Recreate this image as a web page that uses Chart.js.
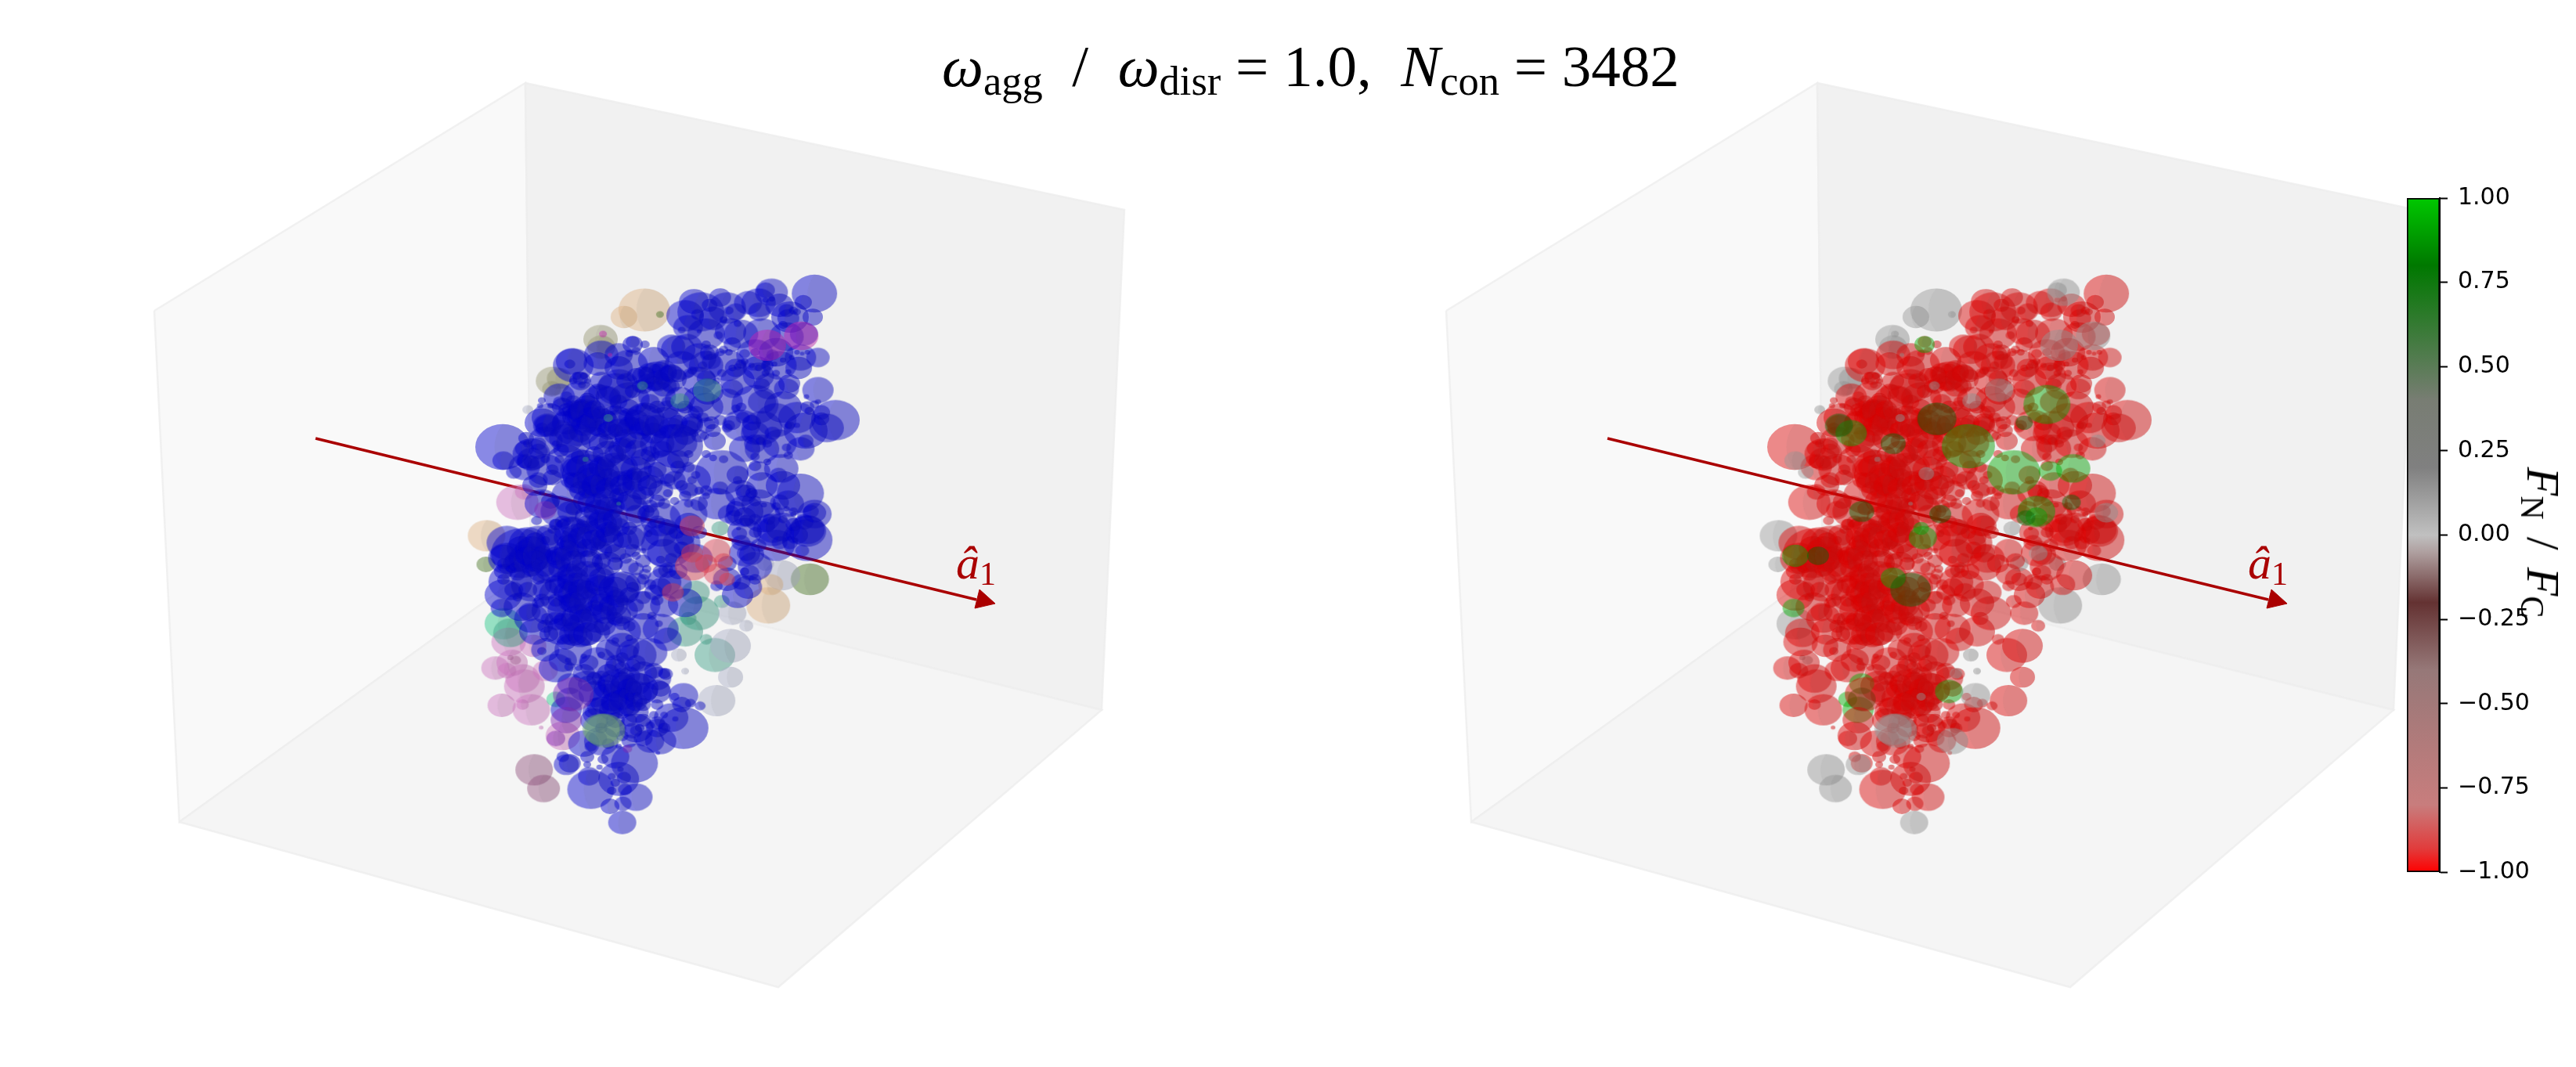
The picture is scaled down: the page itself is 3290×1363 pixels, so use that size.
<!DOCTYPE html>
<html><head><meta charset="utf-8">
<script src="https://cdn.jsdelivr.net/npm/chart.js@4/dist/chart.umd.min.js"></script>
<style>
html,body{margin:0;padding:0;background:#fff;width:3290px;height:1363px;overflow:hidden;position:relative}
canvas{position:absolute}
.m{position:absolute;white-space:nowrap;font-family:"Liberation Serif",serif;color:#000;line-height:1}
.m i{font-style:italic}
.m sub{font-size:.7em;vertical-align:baseline;position:relative;top:.2em;font-style:normal}
.g{margin:0 .12em}
</style></head><body>
<canvas id="left" style="left:0;top:0"></canvas>
<canvas id="right" style="left:1650px;top:0"></canvas>
<canvas id="bar" style="left:3060px;top:222px"></canvas>
<div class="m" id="title" style="left:1203px;top:47px;font-size:75px"><i>ω</i><sub>agg</sub>&nbsp;&nbsp;/&nbsp;&nbsp;<i>ω</i><sub>disr</sub>&nbsp;=&nbsp;1.0,&nbsp;&nbsp;<i>N</i><sub>con</sub>&nbsp;=&nbsp;3482</div>
<div class="m arrowlabel" style="left:1221px;top:689px;font-size:60px;color:#aa0000"><i>â</i><sub>1</sub></div>
<div class="m arrowlabel" style="left:2871px;top:689px;font-size:60px;color:#aa0000"><i>â</i><sub>1</sub></div>
<div class="m" id="cblabel" style="left:3248px;top:693px;font-size:60px;transform:translate(-50%,-50%) rotate(90deg)"><i>F</i><sub>N</sub><span class="g">&nbsp;/&nbsp;</span><i>F</i><sub>C</sub></div>
<script>
// colour bar
const barTicks = [-1,-0.75,-0.5,-0.25,0,0.25,0.5,0.75,1];
const forceStops = [-1,-0.93,-0.8,-0.4,-0.2,-0.05,0,0.2,0.4,0.8,1];
const forceRGB = [[255,0,0],[225,60,60],[200,125,125],[150,120,120],[100,50,50],[175,160,160],[192,192,192],[128,128,128],[120,125,115],[0,120,0],[0,200,0]];
// 3D box panes in panel pixels
const wallLeft  = [[197,397],[671,106],[678,726],[229,1050],[197,397]];
const wallBack  = [[671,106],[1436,268],[1407,907],[678,726],[671,106]];
const floorPane = [[229,1050],[678,726],[1407,907],[994,1261],[229,1050]];
const axisLine  = [[403,560],[1247,766]];
const axisHead  = [[1251,753],[1271,771],[1245,777],[1251,753]];
// rows: projected x, projected y, projected diameter
const broadBubbles = [
[960,340,120],[1050,320,110],[1110,330,90],[840,370,120],[900,440,120],[970,430,100],[1060,440,120],[1130,450,110],[1180,440,90],[820,500,110],[900,560,110],[960,560,120],[1040,520,120],[1110,560,110],[1170,530,100],[1080,640,100],[1130,650,80],[990,620,110],[1050,600,100],
[520,560,130],[600,520,110],[680,560,120],[750,540,100],[830,560,110],[880,620,110],[960,700,100],[1120,720,120],[1160,760,120],[1000,790,120],[1060,880,110],[1110,860,110],[1170,880,90],[1010,880,100],[860,1000,120],[930,1090,120],[1060,1020,100],[1120,1020,110],[1060,1140,120],[1120,1180,110],[1210,1130,110],
[480,680,100],[540,680,120],[600,700,130],[680,690,130],[760,680,120],[830,770,130],[900,720,110],[450,760,110],[500,840,110],[440,850,110],[380,950,100],[440,960,120],[500,930,130],[640,780,130],[700,880,130],[780,950,130],[640,960,130],[520,1060,140],[590,1090,130],[680,1120,130],[770,1150,130],[850,1130,120],[430,1090,110],[480,1120,120],
[330,1240,130],[420,1240,130],[540,1230,130],[650,1240,130],[720,1220,100],[440,1330,130],[320,1440,120],[400,1400,130],[480,1440,130],[580,1480,130],[660,1410,120],[720,1480,110],[400,1530,110],[450,1500,110],[660,1580,120],[720,1560,100],[830,1240,120],[870,1300,110],[780,1280,110],[1010,1200,110],[1100,1250,120],[1040,1330,110],[990,1440,100],[840,1470,110],[780,1480,90],
[520,1650,120],[590,1700,120],[660,1640,110],[740,1660,110],[470,1720,110],[560,1790,120],[710,1800,120],[760,1760,90],[600,1890,120],[700,1950,110],[600,2000,110],[550,2010,100],[740,2000,90],[640,2060,90],[440,1650,90]
];
const mainBubbles = [
[1210,285,145],[1178,318,55],[1205,375,65],[1140,375,120],[1135,380,70],[1020,320,90],[985,355,65],[1052,355,70],[865,315,95],[940,300,70],
[885,355,150],[920,380,90],[910,330,50],[848,415,95],[875,365,40],[950,385,25],[965,350,30],[990,400,25],[1000,440,110],[830,425,25],
[800,487,90],[845,490,100],[880,430,15],[935,445,30],[880,530,110],[910,510,60],[975,480,55],[940,510,30],[915,545,60],[1040,510,30],
[1010,515,35],[1100,510,110],[1165,570,85],[1220,530,75],[1175,515,15],[1045,570,90],[985,570,70],[1000,555,35],[1100,590,25],[1135,585,20],
[1138,630,70],[1075,560,40],[975,650,70],[1060,635,50],[1220,655,100],[1187,680,18],[1060,700,90],[1000,720,35],[1190,720,45],[1220,700,20],
[1270,770,155],[1230,740,55],[1245,800,110],[1185,810,140],[1130,875,30],[1140,790,30],[1100,770,130],[1040,820,90],[1060,800,130],[1005,760,45],
[965,790,40],[985,725,30],[1107,980,55],[1075,930,25],[1135,905,30],[1040,945,40],[1040,910,30],[990,980,70],
[940,1030,50],[1170,1050,150],[1135,1090,100],[1150,1120,30],[1110,1120,30],[1015,1050,65],[1000,1050,100],[1050,1090,110],[985,1110,60],[965,1130,70],
[1015,1155,45],[1190,1195,120],[1090,1190,100],
[318,873,175],[385,840,50],[400,900,120],[400,920,90],[485,885,50],[430,780,110],[445,790,80],[430,800,40],[465,820,25],[430,695,25],
[425,715,20],[455,715,20],[490,720,70],[500,780,90],[555,755,130],[550,750,110],[530,790,160],[540,610,50],[540,620,70],[515,545,100],
[510,555,35],[590,555,90],[650,520,90],[690,470,45],[725,480,30],[700,505,30],[680,515,25],[650,570,90],[640,650,120],[650,640,130],
[720,640,60],[760,600,110],[800,610,100],[780,640,80],[740,700,60],[650,700,55],[825,690,95],[880,690,100],[850,590,35],[900,610,60],
[905,660,100],[790,730,70],[780,780,120],[720,770,120],[650,780,100],[620,760,50],[580,840,90],[620,850,60],[670,840,70],[800,840,110],
[830,860,100],[900,790,60],[915,780,50],[960,800,35],[925,850,70],[775,880,60],[550,960,150],[560,980,160],[575,1000,100],[660,950,100],
[700,960,100],[720,920,80],[740,990,90],[650,1010,90],[710,1020,110],[770,1040,80],[600,1030,80],[540,1040,70],[820,920,70],[810,1000,70],
[850,1040,60],[900,1040,40],[880,1090,55],[840,1060,40],[780,1090,40],[730,1120,50],[640,1100,60],[590,1120,90],[600,1170,100],[520,1110,50],
[490,1160,50],[470,1170,45],[410,1020,80],[420,1000,60],[460,990,60],[455,1080,60],[430,1050,20],[415,1155,35],
[370,1280,190],[390,1240,120],[330,1300,120],[385,1300,110],[400,1290,90],[470,1250,130],[450,1210,80],[470,1170,40],[510,1190,100],[560,1170,70],
[600,1200,110],[620,1160,90],[650,1180,70],[520,1250,90],[600,1270,70],[640,1280,70],[690,1270,50],[460,1330,120],[560,1320,100],[620,1320,90],
[680,1330,60],[720,1310,50],[340,1390,140],[320,1350,60],[350,1330,35],[420,1380,40],[470,1400,70],[520,1380,100],[520,1440,100],[590,1370,110],
[640,1410,80],[700,1390,70],[725,1360,40],[750,1430,60],[720,1450,50],[620,1470,130],[660,1500,100],[550,1480,60],[500,1500,120],[470,1540,70],
[500,1570,120],[550,1570,130],[480,1580,100],[610,1560,70],[660,1550,50],[370,1485,110],[395,1505,70],[420,1470,40],[445,1530,40],[410,1580,100],
[360,1450,30],[770,1570,115],[790,1610,90],[745,1520,30],[765,1550,25],[680,1560,40],[640,1615,25],[680,1605,25],[700,1670,130],[680,1660,60],
[660,1680,40],[620,1650,80],[600,1670,25],[550,1675,20],[490,1690,90],[505,1690,20],[565,1700,60],[550,1740,70],[510,1715,35],[535,1718,25],
[430,1655,30],[720,1740,90],[750,1730,60],[785,1743,45],[770,1800,60],[680,1750,70],[665,1790,90],[640,1780,110],[580,1820,100],[620,1840,120],
[700,1820,100],[730,1810,70],[650,1860,110],[700,1890,80],[760,1860,40],[830,1860,60],[810,1830,30],[855,1855,35],[883,1865,35],[800,1910,110],
[812,1915,20],[780,1900,25],[750,1900,30],[835,1950,160],[760,1950,70],[740,1940,30],[710,1950,30],[690,1960,60],[680,2000,50],[640,1950,70],
[580,1920,90],[590,1990,60],[570,2020,40],[510,2085,70],[490,2060,40],[560,2060,45],[605,2070,35],[695,2085,150],[650,2145,130],[570,2185,150],
[565,2135,70],[665,2140,45],[655,2108,20],[630,2135,25],[640,2160,30],[668,2185,45],[630,2190,30],[700,2215,105],[625,2250,60],[662,2240,55],
[560,2090,25],[595,2100,20],[762,2045,15],[720,1990,60],
[770,1200,110],[790,1250,170],[735,1205,25],[745,1170,30],[815,1200,50],[850,1170,90],[1190,1230,160],[1190,1190,110],[1090,1190,125],[1075,1175,50],
[1140,1240,50],[1175,1270,45],[1155,1230,20],[995,1205,50],[993,1185,15],[1120,1150,30],[1010,1280,100],[1030,1285,80],[830,1260,50],[790,1345,60],
[790,1340,35],[770,1305,30],[780,1390,110],[810,1400,110],[1025,1355,60],[1020,1410,90],[960,1380,90],[930,1405,40],
[560,720,90],[600,780,110],[690,820,120],[760,860,110],[620,900,100],[660,880,90],[520,860,110],[600,980,120],[680,1060,110],[560,1080,90],
[620,1060,100],[700,1130,70],[560,1210,110],[620,1230,100],[500,1300,100],[560,1370,120],[500,1400,110],[600,1420,110],[540,1460,110],[590,1530,110],
[530,1530,100],[420,1300,90],[440,1420,80],[700,1780,90],[640,1720,70],[670,1850,110],[740,1100,50],[820,780,60],[860,780,70]
];
const coreUpper = [
[700,600,60],[730,590,50],[760,580,55],[790,590,60],[820,600,50],[710,640,50],[750,630,60],[800,640,55],[770,610,50],[730,620,55],[690,660,50],[670,620,60],[600,620,70],[620,680,80],[590,660,60],[560,690,50],[520,700,50],[500,680,40],[480,700,40],[540,720,60],
[500,730,50],[520,760,70],[560,780,70],[590,800,60],[540,820,70],[510,820,50],[600,740,50],[640,730,40],[680,720,60],[720,730,50],[760,720,50],[790,700,40],[840,720,50],[870,740,50],[860,790,70],[890,760,40],[940,770,40],[920,810,50],[880,830,50],[850,800,60],
[710,810,70],[750,820,80],[680,790,70],[640,810,50],[610,800,40],[660,870,60],[700,880,70],[740,900,60],[640,900,70],[610,930,70],[580,900,60],[540,910,60],[520,950,70],[510,1000,60],[560,1040,60],[620,990,70],[680,1000,80],[720,1060,70],[650,1060,60],[760,960,60],
[790,1000,50],[760,1080,50],[830,1020,40],[860,1000,30],[880,1040,30],[900,1060,25],[850,1090,30],[810,1080,30],[790,1050,30],[820,950,50],[850,950,40],[870,980,30],[850,900,30],[900,900,30],[920,915,25],[950,920,30],[865,820,30],[895,830,30],
[1040,860,70],[1055,850,30],[1075,860,30],[1030,780,60],[1090,820,50],[1135,790,25],[1160,790,20],[1210,710,30],[1195,735,30],[1230,765,50],[1005,1040,50],[1030,1050,40],[990,1000,30],[1040,1080,40],[1065,1095,20],[1100,1100,30],[1150,1130,20],[1130,1110,20],[1040,1150,40],[1180,1160,60],[1200,1120,50],
[380,880,60],[420,890,60],[400,930,50],[380,930,50],[420,860,50],[390,860,30],[460,960,40],[440,920,30],[480,920,30],[470,860,25],[530,600,30],[550,600,25],[520,620,25],[545,635,25],[560,620,20],
[975,570,25],[990,565,25],[1010,545,25],[1030,560,20],[1050,570,25],[1070,590,25],[1095,555,20],[1120,540,20],[1145,530,18],[1160,510,18],[1190,510,18],[1090,520,40],[1130,350,50],[1150,350,30],[1120,405,30],[1160,355,25],[1070,310,20],[1088,306,20],[900,520,40],[900,480,30],[890,560,30],[860,580,30],[950,500,30],[965,510,25],[945,590,30],[930,620,25]
];
const coreLower = [
[350,1320,70],[380,1260,60],[410,1230,60],[430,1280,60],[440,1340,60],[400,1340,60],[360,1360,50],[320,1380,40],[350,1420,60],[390,1420,60],[430,1460,50],[470,1460,50],[510,1470,70],[470,1290,70],[500,1240,60],[530,1270,70],[480,1340,70],[530,1340,70],[560,1260,70],[570,1300,70],
[600,1310,60],[640,1320,50],[660,1230,60],[620,1190,50],[590,1240,50],[540,1180,60],[490,1170,40],[500,1390,60],[560,1420,70],[600,1470,70],[640,1450,60],[680,1440,60],[700,1480,50],[660,1460,40],[580,1490,60],[540,1510,70],[590,1580,80],[640,1530,50],[540,1600,80],[500,1620,60],
[450,1590,60],[440,1560,50],[700,1340,50],[720,1380,40],[740,1400,40],[690,1410,40],[670,1300,40],[700,1290,30],[720,1270,20],[460,1190,30],[440,1230,30],[355,1300,50],[385,1320,40],[340,1340,30],[320,1320,40],
[640,1700,60],[690,1710,50],[660,1720,50],[700,1700,60],[620,1740,70],[600,1760,60],[660,1770,70],[690,1800,60],[610,1800,70],[580,1760,50],[560,1780,60],[630,1880,80],[680,1870,70],[720,1860,50],[590,1870,70],[570,1890,40],[640,1920,60],[680,1920,50],[720,1920,50],[760,1930,50],
[780,1950,40],[700,1960,40],[660,1980,40],[600,1950,40],[620,2010,40],[650,2020,20],
[760,1160,50],[790,1180,60],[840,1220,60],[880,1200,50],[1000,1240,60],[1040,1200,40],[1050,1250,50],[1110,1240,50],[1160,1210,70],[1150,1170,50],[1080,1150,40],[770,1350,50],[800,1300,40],[820,1350,60],[1000,1390,60],[1040,1380,40],[1010,1350,30],[760,1460,40],[770,1410,70],[730,1340,30]
];
const coreDense = [
[540,740,80],[570,760,80],[550,790,80],[520,730,70],[580,730,70],[740,590,80],[780,580,80],[760,620,80],[720,600,70],[800,590,70],[700,770,80],[730,790,80],[680,760,70],[760,790,80],[650,800,70],[620,810,70],[800,800,80],[840,830,70],[540,950,90],[570,980,90],
[600,950,80],[530,1010,80],[580,1020,80],[620,1030,80],[660,1020,80],[700,1000,90],[740,1020,80],[680,1080,80],[620,1110,90],[590,1090,80],[560,1140,80],[600,1150,80],[640,1150,80],[520,1180,80],[500,1220,80],[540,1220,80],[580,1230,80],[620,1200,80],[500,1270,80],[520,1310,80],
[480,1300,80],[370,1260,90],[400,1260,90],[360,1310,80],[410,1310,80],[510,1360,80],[530,1400,90],[500,1430,80],[540,1420,80],[590,1400,80],[520,1470,80],[550,1540,90],[520,1590,90],[560,1590,90],[500,1540,80],[630,1480,80],[650,1520,80],[610,1510,80],[660,1760,80],[640,1810,80],
[680,1800,80],[660,1840,80],[630,1850,70],[700,1850,70],[620,1780,70]
];
const greenBright = [[690,480,65],[815,870,170],[945,970,170],[1040,710,150],[1050,965,75],[1115,955,110],[480,820,100],[1010,1120,120],[680,1185,50],[685,1220,90],[320,1290,85],[315,1490,70],[600,1375,80],[760,1810,90],[510,1780,80],[500,1880,100],[1010,1140,70]];
const greenDark = [[725,765,125],[975,780,55],[1110,1085,60],[445,790,90],[600,860,80],[735,1130,70],[510,1120,80],[385,1290,70],[650,1420,130],[510,1840,90],[980,1145,60]];
const mintGreen = [[470,1840,60]];
const grayGreenTint = [[610,1960,130],[600,1955,120]];
const tanGray = [[723,348,165],[665,375,85],[272,1213,120],[1078,1480,140]];
const oliveGray = [[598,460,110],[462,620,110],[480,610,80],[458,650,60],[600,490,90]];
const mossGray = [[768,365,25],[270,1323,60],[1197,1380,122]];
const magentaGray = [[1075,483,120],[1172,447,110],[605,440,25],[625,520,15]];
const mauveGray = [[408,2110,120],[435,2182,105],[355,1690,35],[340,1680,20]];
const slateGray = [[390,730,35],[822,1670,50],[1070,1320,55],[840,1732,25]];
const tealGray = [[903,655,90],[825,697,60],[718,638,35],[620,762,30],[555,920,20],[650,1090,15],[940,1185,55]];
const mintGray = [[320,1550,120]];
const blueGray = [[1087,280,105],[1070,272,60],[320,925,70],[350,970,50],[695,975,50],[1210,1125,75],[1185,850,50],[770,2000,100],[500,2090,80],[660,2312,90],[835,1825,95],[780,1740,40],[680,1830,30],[960,1320,60],[1015,1280,60]];
const pinkRed = [[360,1085,135],[380,1045,60],[335,1620,110],[405,1635,85],[297,1720,90],[375,1760,110],[380,1790,130],[330,1730,60],[440,1730,80],[315,1863,90],[400,1880,120],[375,1860,40],[428,1948,15],[490,1980,110],[345,1700,100]];
const purpleRed = [[440,1115,70],[520,1820,130],[500,1920,100],[470,1990,60],[675,2030,30]];
const tealRed = [[925,1670,130],[840,1580,115],[880,1510,130],[870,1430,90],[900,1610,40],[945,1465,50],[850,1530,50],[340,1585,110]];
const slateRed = [[970,1635,130],[970,1755,80],[930,1845,120],[1015,1558,45],[975,1510,90],[1118,1365,115]];
const tanRed = [[1085,1400,80]];
const rustRed = [[860,1330,110],[930,1270,90],[900,1320,70],[950,1310,60],[930,1360,80],[860,1280,70],[960,1380,50],[805,1430,70],[860,1175,80]];
// cluster colours of the left panel
const blue=[0,0,205],tan=[222,178,130],olive=[150,150,115],moss=[70,115,35],magenta=[200,30,180],mauve=[145,80,125],slate=[170,175,200],teal=[60,160,135],mint=[35,200,135],pink=[205,115,190],purple=[130,40,180],rust=[225,60,80];
// layers, drawn first to last: rows, left colour, F_N/F_C
const layers = [
 [mintGray,mint,0.05],[tanGray,tan,0.05],[oliveGray,olive,0.05],[mossGray,moss,0.05],[mauveGray,mauve,0.07],[slateGray,slate,0.07],
 [pinkRed,pink,-1],[tealRed,teal,-1],[slateRed,slate,-1],[tanRed,tan,-1],[mintGreen,mint,1],
 [broadBubbles,blue,-1],[mainBubbles,blue,-1],[coreUpper,blue,-1],[coreLower,blue,-1],[coreDense,blue,-1],[greenBright,blue,1],[greenDark,blue,0.8],[blueGray,blue,0.05],[rustRed,rust,-1],[purpleRed,purple,-1],
 [tealGray,teal,0.05],[magentaGray,magenta,0.05],[grayGreenTint,[110,170,110],0.05]
];
const BUBBLE_ALPHA = 0.45, WIDEN = 1.2, SHADE = 0.86;
function forceColor(v){
  for(let i=1;i<forceStops.length;i++){ if(v<=forceStops[i]){
    const t=(v-forceStops[i-1])/(forceStops[i]-forceStops[i-1]);
    return forceRGB[i-1].map((c,k)=>Math.round((c+(forceRGB[i][k]-c)*t)*SHADE)); } }
  return forceRGB[forceRGB.length-1];
}
const spriteCache = new Map();
function sprite(r,rgb){
  const key=r.toFixed(2)+'|'+rgb.join();
  if(spriteCache.has(key)) return spriteCache.get(key);
  const rx=r*WIDEN, c=document.createElement('canvas');
  c.width=Math.ceil(rx)*2+4; c.height=Math.ceil(r)*2+4;
  const g=c.getContext('2d'), cx=c.width/2, cy=c.height/2;
  g.beginPath(); g.ellipse(cx,cy,rx,r,0,0,Math.PI*2);
  g.fillStyle=`rgba(${rgb.join()},${BUBBLE_ALPHA})`; g.fill();
  g.save(); g.clip();
  g.beginPath(); g.ellipse(cx+rx*0.55,cy,rx*0.85,r*1.3,0,0,Math.PI*2);
  g.fillStyle='rgba(90,90,90,0.07)'; g.fill(); g.restore();
  spriteCache.set(key,c); return c;
}
function pts(a){return a.map(([x,y])=>({x,y}));}
function poly(a,fill,order){return {type:'line',data:pts(a),fill:'shape',backgroundColor:fill,borderColor:'rgba(238,238,238,0.8)',borderWidth:2.5,pointRadius:0,tension:0,order,xAxisID:'x',yAxisID:'y'};}
function scene(id,width,forRight){
  const c=document.getElementById(id); c.width=width; c.height=1363; c.style.width=width+'px'; c.style.height='1363px';
  const ds=[poly(wallLeft,'#f9f9f9',1000),poly(wallBack,'#f1f1f1',999),poly(floorPane,'#f5f5f5',998),
    {type:'line',data:pts(axisLine),borderColor:'#aa0000',borderWidth:3.5,pointRadius:0,fill:false,order:900,xAxisID:'x',yAxisID:'y'},
    {type:'line',data:pts(axisHead),backgroundColor:'#aa0000',borderColor:'#aa0000',borderWidth:1,pointRadius:0,fill:'shape',order:899,xAxisID:'x',yAxisID:'y'}];
  layers.forEach(([rows,col,force],i)=>{
    const rgb=forRight?forceColor(force):col;
    ds.push({type:'bubble',label:'layer'+i,xAxisID:'bx',yAxisID:'by',order:500-i,borderWidth:0,hoverRadius:0,
      data:rows.map(([x,y,d])=>({x,y,r:d/6})),
      pointStyle:ctx=>ctx.raw?sprite(ctx.raw.r,rgb):'circle'});
  });
  new Chart(c,{data:{datasets:ds},options:{responsive:false,animation:false,devicePixelRatio:1,
    layout:{padding:0,autoPadding:false},events:[],
    plugins:{legend:{display:false},tooltip:{enabled:false}},
    scales:{
      x:{type:'linear',display:false,min:0,max:width},
      y:{type:'linear',display:false,min:0,max:1363,reverse:true},
      bx:{type:'linear',display:false,min:-500*2.24,max:(width-500)*2.24},
      by:{type:'linear',display:false,min:-280*3,max:(1363-280)*3,reverse:true}
    }}});
}
scene('left',1650,false);
scene('right',1640,true);
// colour bar chart
(function(){
  const c=document.getElementById('bar'); c.width=230; c.height=923; c.style.width='230px'; c.style.height='923px';
  new Chart(c,{type:'bar',data:{labels:['F'],datasets:[{data:[[-1,1]],barPercentage:1,categoryPercentage:1,borderWidth:2,borderColor:'#000',borderSkipped:false,
    backgroundColor:ctx=>{const a=ctx.chart.chartArea; if(!a) return '#888';
      const g=ctx.chart.ctx.createLinearGradient(0,a.bottom,0,a.top);
      forceStops.forEach((s,i)=>g.addColorStop((s+1)/2,`rgb(${forceRGB[i].join()})`)); return g;}}]},
   options:{responsive:false,animation:false,devicePixelRatio:1,events:[],layout:{padding:{left:14,top:0,bottom:0,right:0},autoPadding:false},
    plugins:{legend:{display:false},tooltip:{enabled:false}},
    scales:{x:{display:false},
      y:{position:'right',min:-1,max:1,afterBuildTicks:s=>{s.ticks=barTicks.map(v=>({value:v}));},
        afterFit:s=>{s.width=174;},
        border:{display:true,color:'#000',width:2},
        grid:{drawOnChartArea:false,drawTicks:true,tickLength:10,tickWidth:2,tickColor:'#000'},
        ticks:{color:'#000',padding:13,font:{family:'"DejaVu Sans"',size:30},callback:v=>v.toFixed(2).replace('-','\u2212')}}}}});
})();
</script>
</body></html>
